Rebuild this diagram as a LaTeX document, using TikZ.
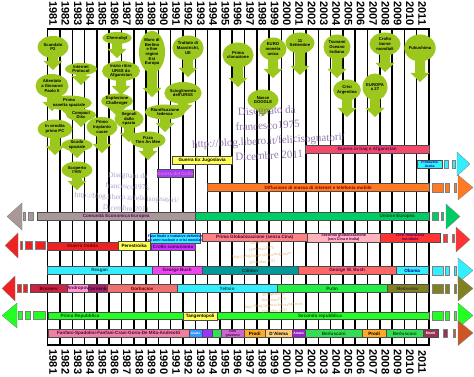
\documentclass[tikz,border=0pt]{standalone}
\usepackage{fontspec}
\setmainfont{Liberation Sans}
\newfontfamily\wmfont{Liberation Serif}
\usetikzlibrary{shapes.geometric,calc}
\pgfdeclarelayer{bgA}
\pgfdeclarelayer{bgB}
\pgfsetlayers{bgA,bgB,main}
\definecolor{balc}{HTML}{9CC81E}
\definecolor{iraqc}{HTML}{F24A6A}
\definecolor{yel}{HTML}{FFFF55}
\definecolor{golfc}{HTML}{A040FF}
\definecolor{cyc}{HTML}{33EEFF}
\definecolor{orc}{HTML}{FF7A22}
\definecolor{ceec}{HTML}{A89898}
\definecolor{uec}{HTML}{00CC66}
\definecolor{redc}{HTML}{EE2222}
\definecolor{crolc}{HTML}{CC33FF}
\definecolor{glob1}{HTML}{FF8080}
\definecolor{glob2}{HTML}{FFB4BC}
\definecolor{crisc}{HTML}{FF3333}
\definecolor{magc}{HTML}{EE44EE}
\definecolor{tealc}{HTML}{009999}
\definecolor{gwbc}{HTML}{FF6666}
\definecolor{brezc}{HTML}{CC2244}
\definecolor{andc}{HTML}{FF99CC}
\definecolor{cerc}{HTML}{AA2266}
\definecolor{gorc}{HTML}{F07070}
\definecolor{putc}{HTML}{22EE44}
\definecolor{medc}{HTML}{808020}
\definecolor{repc}{HTML}{22FF22}
\definecolor{fanc}{HTML}{F080A0}
\definecolor{amac}{HTML}{3399FF}
\definecolor{ciac}{HTML}{9933FF}
\definecolor{berc}{HTML}{33DD55}
\definecolor{dinc}{HTML}{CC66CC}
\definecolor{proc}{HTML}{FFAA22}
\definecolor{dalc}{HTML}{FFCC77}
\definecolor{ama2c}{HTML}{9922CC}
\definecolor{montc}{HTML}{993355}
\definecolor{brnc}{HTML}{CC5522}
\definecolor{wmc}{HTML}{7A5A9E}
\definecolor{wmo}{HTML}{E0A050}
\tikzset{
  yearlab/.style={rotate=-90,inner sep=0pt,font=\bfseries\fontsize{11}{11}\selectfont},
  balloon/.style={ellipse,fill=balc,inner sep=0pt,align=center,text=black,
    font=\bfseries\fontsize{4.2}{4.7}\selectfont},
  bar/.style={draw=black!70,line width=0.3pt,inner sep=0pt,minimum height=8pt,
    anchor=west,align=center,font=\bfseries\fontsize{4.6}{5}\selectfont},
  endp/.style={draw=black!50,line width=0.3pt},
  wm/.style={align=center,inner sep=0pt}
}
\newcommand\balarrow[2]{%
  \fill[balc] let \p1=(#1.south) in
    (\x1-5pt,\y1+4pt) -- (\x1+5pt,\y1+4pt) -- (\x1+5pt,-#2pt+9pt) --
    (\x1+9.5pt,-#2pt+9pt) -- (\x1,-#2pt) -- (\x1-9.5pt,-#2pt+9pt) --
    (\x1-5pt,-#2pt+9pt) -- cycle;}
\newcommand\bb[7]{\node[bar,fill=#5,text=#6,minimum width={#3-#2}] (#1) at (#2,#4) {#7};}
\newcommand\rend[2]{%
  \filldraw[endp,fill=#1] (432,#2-4.5) rectangle (443,#2+4.5);
  \filldraw[endp,fill=#1] (445.5,#2-4.5) rectangle (449,#2+4.5);
  \filldraw[endp,fill=#1] (454,#2-4.5) rectangle (456.5,#2+4.5);
  \filldraw[endp,fill=#1] (458,#2-12.5) -- (473,#2) -- (458,#2+12.5) -- cycle;}
\begin{document}
\begin{tikzpicture}[x=1pt,y=-1pt]
\useasboundingbox (0,0) rectangle (474,377);
\begin{pgfonlayer}{bgA}
\fill[white] (0,0) rectangle (474,377);
\foreach \i in {0,...,31} \draw[line width=1.5pt] ({47.7+\i*12.3},29) -- ({47.7+\i*12.3},345);
\draw[line width=1.2pt] (47,29) -- (430,29);
\draw[line width=1.2pt] (47,345) -- (430,345);
\end{pgfonlayer}
\foreach \i in {0,...,30} {
  \pgfmathtruncatemacro\yr{1981+\i}
  \node[yearlab] (yt\i) at ({47.7+(\i+0.45)*12.3},13.5) {\yr};
  \node[yearlab] (yb\i) at ({47.7+(\i+0.45)*12.3},362) {\yr};
}
% balloons
\node[balloon,minimum width=31,minimum height=22] (b1) at (53,47) {Scandalo\\P2};
\node[balloon,minimum width=32,minimum height=12] (b2) at (81,69) {Internet\\Protocol};
\node[balloon,minimum width=33,minimum height=24] (b3) at (52,86) {Attentato\\a Giovanni\\Paolo II};
\node[balloon,minimum width=38,minimum height=15] (b4) at (69,103) {Prima\\navetta spaziale};
\node[balloon,minimum width=30,minimum height=12] (b5) at (81,115) {Compact\\Disc};
\node[balloon,minimum width=35,minimum height=19] (b6) at (55,129) {In vendita\\primo PC};
\node[balloon,minimum width=31,minimum height=12] (b7) at (77,145) {Scudo\\spaziale};
\node[balloon,minimum width=31,minimum height=17] (b8) at (77,170) {Scoperto\\l'HIV};
\node[balloon,minimum width=29,minimum height=12] (b9) at (117,38) {Chernobyl};
\node[balloon,minimum width=38,minimum height=20] (b10) at (121,71) {Inizio ritiro\\URSS da\\Afganistan};
\node[balloon,minimum width=31,minimum height=15] (b11) at (117,101) {Esplosione\\Challenger};
\node[balloon,minimum width=31,minimum height=20] (b12) at (102,127) {Primo\\trapianto\\cuore};
\node[balloon,minimum width=29,minimum height=16] (b13) at (129,119) {Segnali\\dallo\\spazio};
\node[balloon,minimum width=26,minimum height=42] (b14) at (152,52) {Muro di\\Berlino\\e fine\\regimi\\Est\\Europa};
\node[balloon,minimum width=27,minimum height=17] (b15) at (148,140) {P.zza\\Tien An Men};
\node[balloon,minimum width=27,minimum height=15] (b16) at (165,112) {Riunificazione\\tedesca};
\node[balloon,minimum width=31,minimum height=25] (b17) at (188,48) {Trattato di\\Maastricht,\\UE};
\node[balloon,minimum width=31,minimum height=22] (b18) at (183,93) {Scioglimento\\dell'URSS};
\node[balloon,minimum width=31,minimum height=25] (b19) at (238,55) {Prima\\clonazione};
\node[balloon,minimum width=27,minimum height=23] (b20) at (273,49) {EURO\\moneta\\unica};
\node[balloon,minimum width=29,minimum height=21] (b21) at (300,43) {11\\Settembre};
\node[balloon,minimum width=31,minimum height=21] (b22) at (263,100) {Nasce\\GOOGLE};
\node[balloon,minimum width=27,minimum height=25] (b23) at (337,47) {Tsunami\\Oceano\\Indiano};
\node[balloon,minimum width=26,minimum height=21] (b24) at (347,90) {Crisi\\Argentina};
\node[balloon,minimum width=25,minimum height=27] (b25) at (375,87) {EUROPA\\a 27};
\node[balloon,minimum width=31,minimum height=23] (b26) at (385,44) {Crollo\\borse\\mondiali};
\node[balloon,minimum width=30,minimum height=27] (b27) at (420,48) {Fukushima};
\begin{pgfonlayer}{bgB}
\balarrow{b1}{70}\balarrow{b2}{85}\balarrow{b3}{111}\balarrow{b4}{117}
\balarrow{b5}{127}\balarrow{b6}{155}\balarrow{b7}{158}\balarrow{b8}{190}
\balarrow{b9}{58}\balarrow{b10}{95}\balarrow{b11}{116}\balarrow{b12}{153}
\balarrow{b13}{142}\balarrow{b14}{97}\balarrow{b15}{160}\balarrow{b16}{132}
\balarrow{b17}{77}\balarrow{b18}{114}\balarrow{b19}{87}\balarrow{b20}{78}
\balarrow{b21}{75}\balarrow{b22}{116}\balarrow{b23}{78}\balarrow{b24}{117}
\balarrow{b25}{117}\balarrow{b26}{72}\balarrow{b27}{82}
\end{pgfonlayer}
% row: wars
\bb{iraq}{305}{429}{149}{iraqc}{violet!70!black}{Guerra in Iraq e Afganistan}
\bb{jugo}{172}{232}{160}{yel}{black}{Guerra Ex Jugoslavia}
\bb{golfo}{157}{183}{173.5}{golfc}{magenta!60!white}{Guerra del Golfo}
\node[bar,fill=cyc,text=blue!60!black,minimum width=25,font=\bfseries\fontsize{3.4}{3.6}\selectfont] (arab) at (417,164) {Primavera\\Araba};
\filldraw[endp,fill=cyc] (444,160) rectangle (448,168);
\filldraw[endp,fill=cyc] (452.5,160) rectangle (455,168);
\filldraw[endp,fill=cyc] (457,152) -- (470,164) -- (457,176) -- cycle;
% internet
\bb{inet}{207}{429}{187.5}{orc}{red!50!black}{Diffusione di massa di internet e telefonia mobile}
\rend{orc}{187.5}
% Europe
\bb{cee}{37}{195}{216.5}{ceec}{violet!80!black}{Comunit\`a Economica Europea}
\bb{ue}{195}{429}{216.5}{uec}{green!30!black}{\hspace*{170pt}Unione Europea}
\filldraw[endp,fill=ceec] (7,216.5) -- (22,203) -- (22,230) -- cycle;
\filldraw[endp,fill=ceec] (23,212.5) rectangle (25.5,220.5);
\filldraw[endp,fill=ceec] (28,212.5) rectangle (33,220.5);
\filldraw[endp,fill=uec] (432,212.5) rectangle (438,220.5);
\filldraw[endp,fill=uec] (441,212.5) rectangle (443.5,220.5);
\filldraw[endp,fill=uec] (446,204) -- (460,216.5) -- (446,229) -- cycle;
% cold war / globalisation
\filldraw[endp,fill=redc] (5,245.5) -- (18,233) -- (18,258) -- cycle;
\filldraw[endp,fill=redc] (20,241.5) rectangle (22.5,249.5);
\filldraw[endp,fill=redc] (25,241.5) rectangle (32,249.5);
\filldraw[endp,fill=redc] (35,241.5) rectangle (45,249.5);
\bb{gfredda}{47}{118}{246}{redc}{red!40!black}{Guerra fredda}
\node[bar,fill=yel,text=black,minimum width=32,minimum height=9] (pere) at (118,246) {Perestroika};
\bb{crollo}{151}{195}{246.5}{crolc}{violet!60!black}{Crollo comunismo}
\node[bar,fill=cyc,minimum width=50,minimum height=10] (fase) at (150,238) {};
\node[text=blue!70!black,align=center,inner sep=0pt,font=\bfseries\fontsize{3.6}{3.9}\selectfont] (fasetxt) at (fase.center) {Fase finale e trattative definitive\\su armi nucleari e crisi mondiali};
\bb{glob1}{202}{307}{237.5}{glob1}{violet!60!black}{Prima Globalizzazione (senza Cina)}
\node[bar,fill=glob2,text=violet!70!black,minimum width=73,minimum height=9,font=\bfseries\fontsize{3.8}{4}\selectfont] (glob2) at (307,237.5) {Seconda globalizzazione\\(con Cina e India)};
\node[bar,fill=crisc,text=violet!70!black,minimum width=60,minimum height=9,font=\bfseries\fontsize{3.8}{4}\selectfont] (crisi) at (380,237.5) {Crisi finanziaria\\mondiale};
\filldraw[endp,fill=crisc] (443,234) rectangle (447,242);
\filldraw[endp,fill=crisc] (452,234) rectangle (454.5,242);
\filldraw[endp,fill=crisc] (456,227) -- (470,239.5) -- (456,252) -- cycle;
% USA presidents
\bb{reagan}{47}{152}{270.5}{cyc}{teal!60!black}{Reagan}
\bb{gbush}{152}{202}{270.5}{magc}{violet!60!black}{George Bush}
\bb{clinton}{202}{298}{270.5}{tealc}{teal!30!black}{Clinton}
\bb{gwbush}{298}{396}{270.5}{gwbc}{violet!70!black}{George W. Bush}
\bb{obama}{396}{428}{270.5}{cyc}{blue!60!black}{Obama}
\rend{cyc}{270.5}
% URSS / Russia
\filldraw[endp,fill=redc] (2,288.5) -- (15,276) -- (15,301) -- cycle;
\filldraw[endp,fill=redc] (17,284.5) rectangle (21,292.5);
\filldraw[endp,fill=redc] (23,284.5) rectangle (27,292.5);
\bb{brez}{30}{67}{288.5}{brezc}{red!30!black}{Breznev}
\bb{andr}{67}{88}{288.5}{andc}{violet!70!black}{Andropov}
\bb{cern}{88}{107}{288.5}{cerc}{violet!40!black}{Cernenko}
\bb{gorb}{107}{177}{288.5}{gorc}{red!40!black}{Gorbaciov}
\bb{yelt}{177}{277}{288.5}{cyc}{teal!60!black}{Yeltsin}
\bb{putin}{277}{387}{288.5}{putc}{green!30!black}{Putin}
\bb{medv}{387}{428}{288.5}{medc}{black!80}{Medvedev}
\rend{medc}{288.5}
% Italy
\filldraw[endp,fill=repc] (2,315.5) -- (17,303) -- (17,328) -- cycle;
\filldraw[endp,fill=repc] (18,311.5) rectangle (22,319.5);
\filldraw[endp,fill=repc] (25,311.5) rectangle (30,319.5);
\filldraw[endp,fill=repc] (33,311.5) rectangle (45,319.5);
\node[bar,fill=repc,minimum width=135,minimum height=7] (prep) at (48,316) {};
\node[text=green!30!black,inner sep=0pt,font=\bfseries\fontsize{4.6}{5}\selectfont] (preptxt) at (80,316) {Prima Repubblica};
\node[bar,fill=repc,minimum width=212,minimum height=7] (srep) at (217,316) {};
\node[text=green!30!black,inner sep=0pt,font=\bfseries\fontsize{4.6}{5}\selectfont] (sreptxt) at (320,316) {Seconda repubblica};
\node[bar,fill=yel,text=black,minimum width=34,minimum height=8] (tang) at (183,316) {Tangentopoli};
\rend{repc}{315.5}
\bb{fanf}{48}{189}{333.5}{fanc}{violet!60!black}{Fanfani-Spadolini-Fanfani-Craxi-Goria-De Mita-Andreotti}
\node[bar,fill=amac,text=white,minimum width=13,font=\bfseries\fontsize{3}{3.3}\selectfont] (ama1) at (189,333.5) {Amato};
\node[bar,fill=ciac,text=white,minimum width=10,font=\bfseries\fontsize{3}{3.3}\selectfont] (ciam) at (202,333.5) {};
\node[bar,fill=berc,minimum width=9] (ber1) at (212,333.5) {};
\node[bar,fill=dinc,text=violet!60!black,minimum width=23,font=\bfseries\fontsize{3.6}{3.9}\selectfont] (dini) at (221,333.5) {Dini\\governo};
\bb{prod1}{244}{265}{333.5}{proc}{black}{Prodi}
\bb{dale}{265}{292}{333.5}{dalc}{black}{D'Alema}
\node[bar,fill=ama2c,text=white,minimum width=13,font=\bfseries\fontsize{3.4}{3.6}\selectfont] (ama2) at (292,333.5) {Amato};
\bb{ber2}{305}{362}{333.5}{berc}{green!30!black}{Berlusconi}
\bb{prod2}{362}{386}{333.5}{proc}{black}{Prodi}
\bb{ber3}{386}{423}{333.5}{berc}{green!30!black}{Berlusconi}
\node[bar,fill=montc,text=white,minimum width=15,font=\bfseries\fontsize{3.6}{3.9}\selectfont] (mont) at (423,333.5) {Monti};
\filldraw[endp,fill=montc] (443,329.5) rectangle (447,337.5);
\filldraw[endp,fill=brnc] (453,329.5) rectangle (455.5,337.5);
\filldraw[endp,fill=brnc] (458,320.5) -- (473,333) -- (458,345.5) -- cycle;
% watermarks
\node[wm,text=wmc,text opacity=0.8,rotate=3,font=\wmfont\fontsize{11}{15}\selectfont] (wm1) at (268,133)
  {Disegnato da\\francesco1975\\http://blog.libero.it/felicisognatori/\\Dicembre 2011};
\node[wm,text=wmc!70,text opacity=0.8,rotate=-3,font=\wmfont\fontsize{7.5}{11}\selectfont] (wm2) at (127,192)
  {Disegnato da\\francesco1975\\http://blog.libero.it/felicisognatori/\\Dicembre 2011};
\node[wm,text=wmo,text opacity=0.8,rotate=4,font=\wmfont\fontsize{4.3}{6.5}\selectfont] (wm3) at (262,252)
  {Disegnato da\\francesco1975\\http://blog.libero.it/felicisognatori/\\Dicembre 2011};
\node[wm,text=wmo,text opacity=0.8,rotate=3,font=\wmfont\fontsize{4.2}{5.6}\selectfont] (wm4) at (274,302.5)
  {Disegnato da\\francesco1975\\http://blog.libero.it/felicisognatori/\\Dicembre 2011};
\end{tikzpicture}
\end{document}
